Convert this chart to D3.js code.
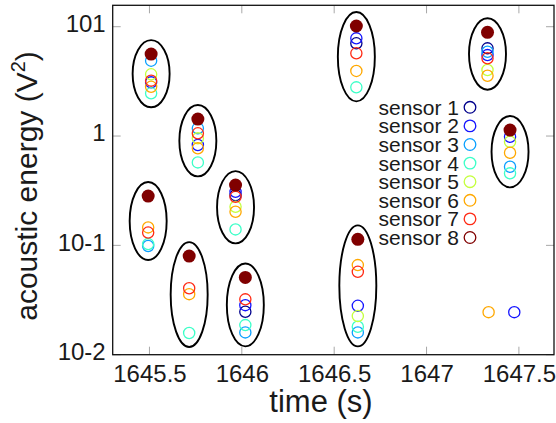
<!DOCTYPE html>
<html><head><meta charset="utf-8">
<script src="https://cdn.jsdelivr.net/npm/d3@7"></script>
<style>
html,body{margin:0;padding:0;background:#fff;}
svg text{font-family:"Liberation Sans",Arial,sans-serif;fill:#1a1a1a;}
</style></head>
<body>
<svg id="chart" width="556" height="423"></svg>
<script>
// ---- data ----
const eventTimes  = [1645.509, 1645.493, 1645.715, 1645.762, 1645.966, 1646.019, 1646.620, 1646.628, 1647.330, 1647.452];
const eventEnergy = [5.62, 0.2825, 0.0798, 1.43, 0.356, 0.0509, 10.15, 0.1135, 8.89, 1.135];
const sensor1 = [null, null, null, null, 0.288, 0.0247, 7.05, null, 6.34, null];
const sensor2 = [3.10, null, null, 0.828, 0.309, 0.0284, 7.83, 0.028, 5.50, 0.986];
const sensor3 = [4.89, 0.0986, null, 1.176, null, 0.016, null, 0.016, 5.90, 0.524];
const sensor4 = [2.46, 0.1027, 0.0158, 0.574, 0.140, 0.01866, 2.79, 0.018, null, 0.456];
const sensor5 = [3.67, null, null, 0.953, 0.2256, null, null, 0.02254, 4.02, 0.887];
const sensor6 = [2.82, 0.146, 0.0358, 0.772, 0.203, null, 3.94, 0.066, 3.56, 0.703];
const sensor7 = [3.21, 0.131, 0.0405, 1.059, 0.278, 0.0321, 5.71, 0.0573, 5.14, null];
const sensor8 = [null, null, null, null, null, null, null, null, null, null];
const strayTimes  = [1647.336, 1647.475];
const straySensor = [6, 2];
const strayValues = [0.0245, 0.0245];
const sensorNames = ["sensor 1","sensor 2","sensor 3","sensor 4","sensor 5","sensor 6","sensor 7","sensor 8"];
const xTicks = [1645.5, 1646, 1646.5, 1647, 1647.5];
const xTickLabels = ["1645.5", "1646", "1646.5", "1647", "1647.5"];
const yTicks = [10, 1, 0.1, 0.01];
const yTickLabels = ["101", "1", "10-1", "10-2"];

const sensors = [sensor1, sensor2, sensor3, sensor4, sensor5, sensor6, sensor7, sensor8];
const colors = ["#00008c", "#1414ff", "#0aa0ff", "#3cffc8", "#c4ff3c", "#ffa800", "#ff2a14", "#800000"];

// ---- layout ----
const svg = d3.select("#chart");
const L = 112.7, R = 554, T = 5.3, B = 354.7;
const x = d3.scaleLinear().domain([1645.301, 1647.69]).range([L, R]);
const y = d3.scaleLog().domain([0.01, 15.7]).range([B, T]);

// tick marks (gray, inside, mirrored)
const tickG = svg.append("g").attr("stroke", "#a8a8a8").attr("stroke-width", 1);
xTicks.forEach(t => {
  tickG.append("line").attr("x1", x(t)).attr("x2", x(t)).attr("y1", B).attr("y2", B - 8);
  tickG.append("line").attr("x1", x(t)).attr("x2", x(t)).attr("y1", T).attr("y2", T + 8);
});
yTicks.forEach(t => {
  tickG.append("line").attr("x1", L).attr("x2", L + 8).attr("y1", y(t)).attr("y2", y(t));
  tickG.append("line").attr("x1", R).attr("x2", R - 8).attr("y1", y(t)).attr("y2", y(t));
});

// axes labels via d3 axes
const xAxis = d3.axisBottom(x).tickValues(xTicks).tickSize(0).tickPadding(10)
  .tickFormat((d, i) => xTickLabels[i]);
const gx = svg.append("g").attr("transform", `translate(0,${B})`).call(xAxis);
gx.select(".domain").remove();
gx.selectAll("text").attr("font-size", 24).attr("font-family", "Liberation Sans, Arial, sans-serif").attr("fill", "#1a1a1a").attr("dy", "0.72em");

const yAxis = d3.axisLeft(y).tickValues(yTicks).tickSize(0).tickPadding(7)
  .tickFormat((d, i) => yTickLabels[i]);
const gy = svg.append("g").attr("transform", `translate(${L},0)`).call(yAxis);
gy.select(".domain").remove();
gy.selectAll("text").attr("font-size", 24).attr("font-family", "Liberation Sans, Arial, sans-serif").attr("fill", "#1a1a1a").attr("dy", "0.2em");

// frame
svg.append("rect").attr("x", L).attr("y", T).attr("width", R - L).attr("height", B - T)
  .attr("fill", "none").attr("stroke", "#111").attr("stroke-width", 1.3);

// axis titles
svg.append("text").attr("x", 321).attr("y", 412).attr("text-anchor", "middle")
  .attr("font-size", 31).text("time (s)");
const yl = svg.append("text").attr("transform", "translate(37,186) rotate(-90)")
  .attr("text-anchor", "middle").attr("font-size", 30);
yl.append("tspan").text("acoustic energy (V");
yl.append("tspan").attr("font-size", 20).attr("dy", -12).text("2");
yl.append("tspan").attr("dy", 12).text(")");

// ellipses around events
const ellG = svg.append("g");
eventTimes.forEach((t, i) => {
  const vals = [eventEnergy[i]];
  sensors.forEach(s => { if (s[i] != null) vals.push(s[i]); });
  const ys = vals.map(v => y(v));
  const top = d3.min(ys), bot = d3.max(ys);
  ellG.append("ellipse")
    .attr("cx", x(t)).attr("cy", (top + bot) / 2)
    .attr("rx", 18.5).attr("ry", (bot - top) / 2 + 14)
    .attr("fill", "none").attr("stroke", "#000").attr("stroke-width", 1.9);
});

// sensor points
const ptG = svg.append("g");
sensors.forEach((s, k) => {
  s.forEach((v, i) => {
    if (v == null) return;
    ptG.append("circle").attr("cx", x(eventTimes[i])).attr("cy", y(v)).attr("r", 5.6)
      .attr("fill", "none").attr("stroke", colors[k]).attr("stroke-width", 1.3);
  });
});
strayTimes.forEach((t, i) => {
  ptG.append("circle").attr("cx", x(t)).attr("cy", y(strayValues[i])).attr("r", 5.6)
    .attr("fill", "none").attr("stroke", colors[straySensor[i] - 1]).attr("stroke-width", 1.3);
});
// event energy (filled)
eventTimes.forEach((t, i) => {
  ptG.append("circle").attr("cx", x(t)).attr("cy", y(eventEnergy[i])).attr("r", 6.5)
    .attr("fill", "#800000");
});

// legend
const lg = svg.append("g");
sensorNames.forEach((n, k) => {
  const yy = 107.3 + 18.6 * k;
  lg.append("text").attr("x", 459).attr("y", yy).attr("dy", "0.36em")
    .attr("text-anchor", "end").attr("font-size", 21).text(n);
  lg.append("circle").attr("cx", 470).attr("cy", yy).attr("r", 5.8)
    .attr("fill", "none").attr("stroke", colors[k]).attr("stroke-width", 1.3);
});
</script>
</body></html>
